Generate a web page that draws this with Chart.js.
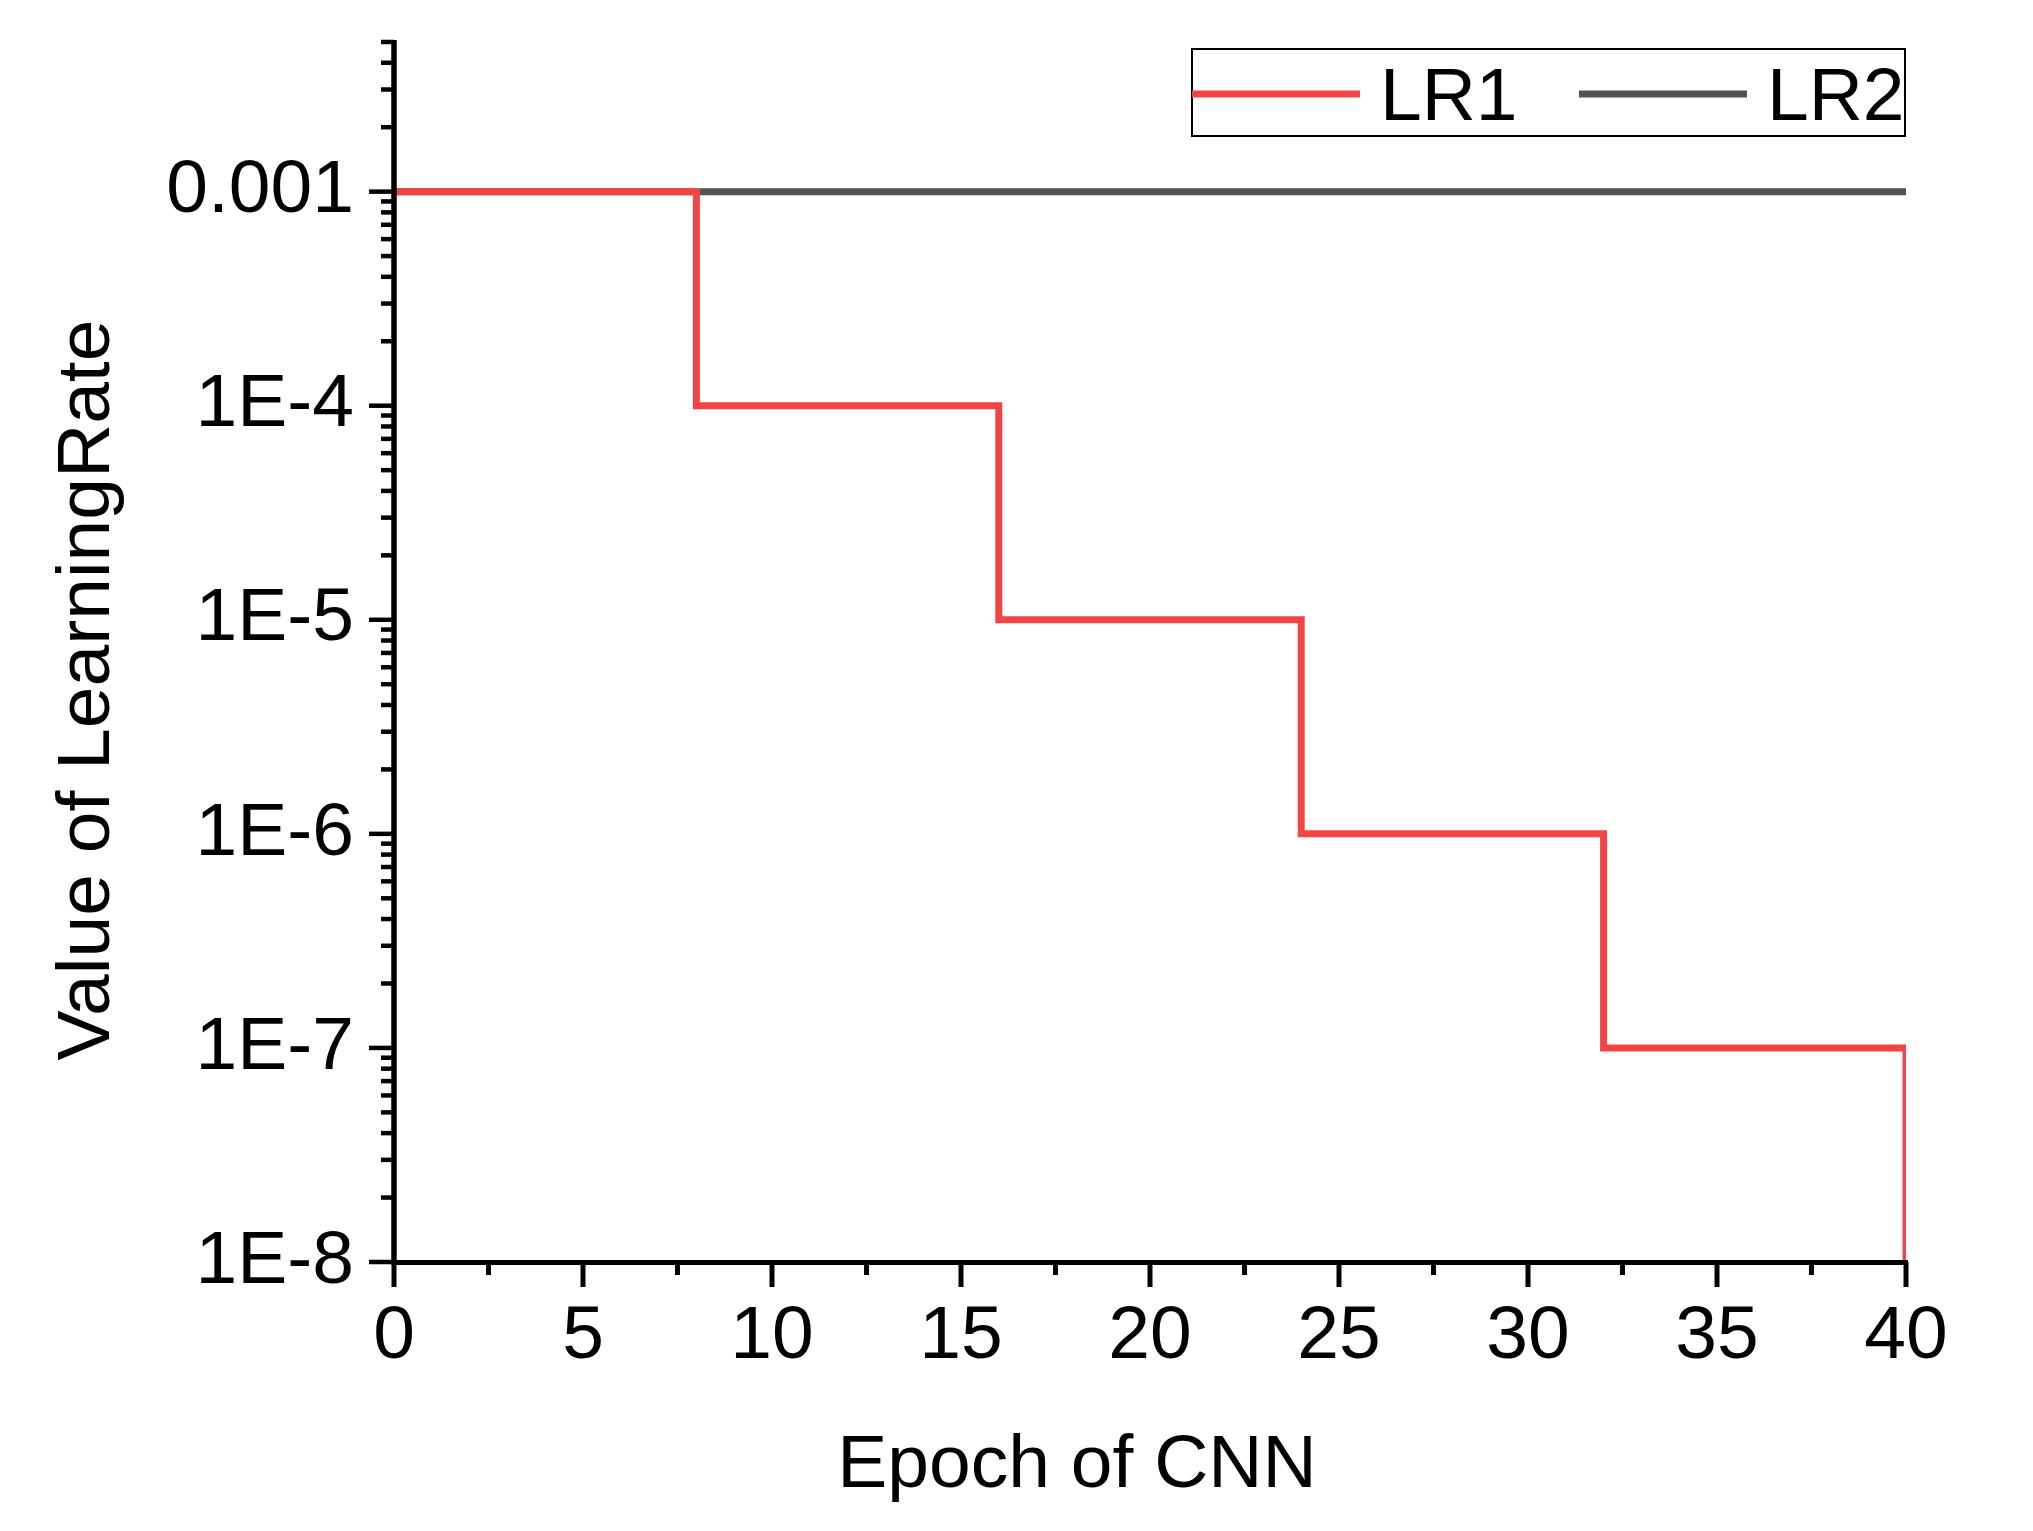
<!DOCTYPE html>
<html>
<head>
<meta charset="utf-8">
<title>Learning rate</title>
<script src="https://cdn.jsdelivr.net/npm/chart.js@4/dist/chart.umd.min.js"></script>
<style>
    html, body { margin: 0; padding: 0; background: #fff; }
    canvas { display: block; }
</style>
</head>
<body>
<canvas id="lrChart" width="2033" height="1531"></canvas>
<script>
// data
const epochs = [0, 8, 16, 24, 32, 40]
const lr1 = [1e-3, 1e-4, 1e-5, 1e-6, 1e-7, 1e-8]
const lr2 = [1e-3, 1e-3, 1e-3, 1e-3, 1e-3, 1e-3]
const seriesNames = ['LR1', 'LR2']

const xTickValues = [0, 5, 10, 15, 20, 25, 30, 35, 40]
const yTickValues = [1e-8, 1e-7, 1e-6, 1e-5, 1e-4, 1e-3]
const yTickLabels = ['1E-8', '1E-7', '1E-6', '1E-5', '1E-4', '0.001']
const xMin = 0, xMax = 40
const yMin = 1e-8, yMax = 5e-3

const FONT = 'Liberation Sans, Arial, sans-serif'

function toPoints(xs, ys) {
    return xs.map((x, i) => ({ x, y: ys[i] }))
}

// axis lines, tick marks (major + minor), axis titles and the boxed legend
const decorPlugin = {
    id: 'decor',
    afterDatasetsDraw(chart) {
        const ctx = chart.ctx
        const area = chart.chartArea
        const xs = chart.scales.x
        const ys = chart.scales.y

        ctx.save()
        ctx.strokeStyle = '#000'
        ctx.lineCap = 'butt'

        // ticks
        ctx.lineWidth = 5
        for (let v = xMin; v <= xMax + 1e-9; v += 2.5) {
            const px = xs.getPixelForValue(v)
            const major = Math.abs(v % 5) < 1e-9
            ctx.beginPath()
            ctx.moveTo(px, area.bottom)
            ctx.lineTo(px, area.bottom + (major ? 25 : 13))
            ctx.stroke()
        }
        ctx.lineWidth = 4.5
        for (let e = -8; e <= -3; e++) {
            for (let m = 1; m <= 9; m++) {
                const v = m * Math.pow(10, e)
                if (v > yMax * 1.0001) continue
                const py = ys.getPixelForValue(v)
                ctx.beginPath()
                ctx.moveTo(area.left, py)
                ctx.lineTo(area.left - (m === 1 ? 25 : 13), py)
                ctx.stroke()
            }
        }

        // axis lines
        ctx.lineWidth = 5.5
        ctx.beginPath()
        ctx.moveTo(area.left, area.top - 2)
        ctx.lineTo(area.left, area.bottom + 2.5)
        ctx.stroke()
        ctx.lineWidth = 5
        ctx.beginPath()
        ctx.moveTo(area.left - 2.5, area.bottom + 0.5)
        ctx.lineTo(area.right + 2, area.bottom + 0.5)
        ctx.stroke()

        // axis titles
        ctx.fillStyle = '#000'
        ctx.font = '75px ' + FONT
        ctx.textAlign = 'center'
        ctx.textBaseline = 'alphabetic'
        ctx.fillText('Epoch of CNN', 1077, 1487)

        ctx.save()
        ctx.translate(109, 690)
        ctx.rotate(-Math.PI / 2)
        ctx.fillText('Value of LearningRate', 0, 0)
        ctx.restore()

        // legend
        const boxL = area.right - 714, boxT = 49, boxW = 713, boxH = 87
        ctx.lineWidth = 2
        ctx.strokeRect(boxL, boxT, boxW, boxH)
        const itemX = [boxL, boxL + 387]
        chart.data.datasets.forEach((ds, i) => {
            ctx.strokeStyle = ds.borderColor
            ctx.lineWidth = 7
            ctx.beginPath()
            ctx.moveTo(itemX[i], boxT + 45)
            ctx.lineTo(itemX[i] + 168, boxT + 45)
            ctx.stroke()
            ctx.fillStyle = '#000'
            ctx.textAlign = 'left'
            ctx.fillText(ds.label, itemX[i] + 188, boxT + 71)
        })
        ctx.restore()
    }
}

const ctx = document.getElementById('lrChart').getContext('2d')
new Chart(ctx, {
    type: 'line',
    data: {
        datasets: [
            {
                label: seriesNames[0],
                data: toPoints(epochs, lr1),
                borderColor: '#f24444',
                borderWidth: 7,
                stepped: true,
                pointRadius: 0,
                fill: false,
            },
            {
                label: seriesNames[1],
                data: toPoints(epochs, lr2),
                borderColor: '#525252',
                borderWidth: 7,
                pointRadius: 0,
                fill: false,
            },
        ]
    },
    options: {
        responsive: false,
        animation: false,
        devicePixelRatio: 1,
        layout: { padding: { top: 42, right: 127, left: 0, bottom: 0 } },
        plugins: {
            legend: { display: false },
            tooltip: { enabled: false },
        },
        scales: {
            x: {
                type: 'linear',
                min: xMin,
                max: xMax,
                grid: { display: false, drawTicks: false },
                border: { display: false },
                afterBuildTicks: s => { s.ticks = xTickValues.map(v => ({ value: v })) },
                afterFit: s => { s.height = 269; s.paddingLeft = 0; s.paddingRight = 0 },
                ticks: {
                    color: '#000',
                    padding: 30,
                    maxRotation: 0,
                    autoSkip: false,
                    font: { family: FONT, size: 75, lineHeight: 1.2 },
                },
            },
            y: {
                type: 'logarithmic',
                min: yMin,
                max: yMax,
                grid: { display: false, drawTicks: false },
                border: { display: false },
                afterBuildTicks: s => { s.ticks = yTickValues.map(v => ({ value: v })) },
                afterFit: s => { s.width = 394; s.paddingTop = 0; s.paddingBottom = 0 },
                ticks: {
                    color: '#000',
                    padding: 40,
                    autoSkip: false,
                    font: { family: FONT, size: 75 },
                    callback: function (value) {
                        const i = yTickValues.findIndex(v => Math.abs(v - value) / v < 1e-6)
                        return i >= 0 ? yTickLabels[i] : ''
                    },
                },
            },
        },
    },
    plugins: [decorPlugin],
})
</script>
</body>
</html>
